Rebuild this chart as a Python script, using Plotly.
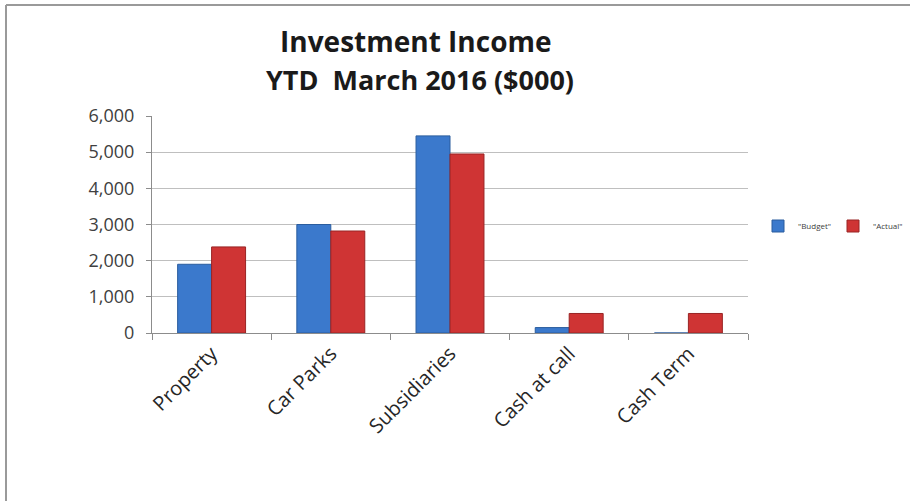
import plotly.graph_objects as go

# Investment income, year to date March 2016, in $000
categories = ["Property", "Car Parks", "Subsidiaries", "Cash at call", "Cash Term"]
budget = [1900, 3000, 5450, 150, 0]
actual = [2380, 2820, 4950, 540, 540]
series_names = ['"Budget"', '"Actual"']
y_ticks = [0, 1000, 2000, 3000, 4000, 5000, 6000]

W, H = 910, 501
ML, MR, MT, MB = 152, 162, 116, 168
PW = W - ML - MR
PH = H - MT - MB


def px_x(p):
    return (p - ML) / PW


def px_y(p):
    return (H - MB - p) / PH


fig = go.Figure()
fig.add_trace(go.Bar(
    x=categories, y=budget, name=series_names[0],
    marker=dict(color="#3b79cc", line=dict(color="#2b5d9e", width=1)),
))
fig.add_trace(go.Bar(
    x=categories, y=actual, name=series_names[1],
    marker=dict(color="#cf3434", line=dict(color="#992424", width=1)),
))

font_family = "'Open Sans', Lato, sans-serif"

fig.update_layout(
    width=W, height=H,
    margin=dict(l=ML, r=MR, t=MT, b=MB, autoexpand=False),
    paper_bgcolor="white", plot_bgcolor="white",
    barmode="group", bargap=0.43, bargroupgap=0,
    font=dict(family=font_family),
    showlegend=True,
    legend=dict(
        orientation="h", x=px_x(758), y=px_y(226),
        xanchor="left", yanchor="middle",
        font=dict(size=8, color="#404040"),
        itemwidth=30, entrywidth=30, tracegroupgap=0,
        bgcolor="rgba(0,0,0,0)",
    ),
    xaxis=dict(
        tickangle=-45, tickson="boundaries",
        ticks="outside", ticklen=6, tickcolor="#8c8c8c",
        showline=True, linecolor="#8c8c8c", linewidth=1,
        tickfont=dict(size=20, color="#262626"),
        showgrid=False, zeroline=False,
    ),
    yaxis=dict(
        range=[0, 6000], tickvals=y_ticks,
        tickformat=",d",
        ticks="outside", ticklen=5, tickcolor="#8c8c8c",
        ticklabelstandoff=8,
        showline=True, linecolor="#8c8c8c", linewidth=1,
        showgrid=True, gridcolor="#bfbfbf", gridwidth=1,
        zeroline=False,
        tickfont=dict(size=18, color="#404040"),
    ),
)

# Two-line bold title
fig.add_annotation(
    text="<b>Investment Income</b>", xref="paper", yref="paper",
    x=px_x(416), y=px_y(41), xanchor="center", yanchor="middle",
    showarrow=False, font=dict(size=28, color="#1a1a1a", family=font_family),
)
fig.add_annotation(
    text="<b>YTD\u00a0\u00a0March 2016 ($000)</b>", xref="paper", yref="paper",
    x=px_x(420), y=px_y(79), xanchor="center", yanchor="middle",
    showarrow=False, font=dict(size=27, color="#1a1a1a", family=font_family),
)

# Frame along the top and left edges of the chart area
fig.add_shape(type="line", xref="paper", yref="paper",
              x0=px_x(6), x1=px_x(910), y0=px_y(5), y1=px_y(5),
              line=dict(color="#9a9a9a", width=2))
fig.add_shape(type="line", xref="paper", yref="paper",
              x0=px_x(6), x1=px_x(6), y0=px_y(5), y1=px_y(501),
              line=dict(color="#9a9a9a", width=2))

fig.write_html("out.html")
